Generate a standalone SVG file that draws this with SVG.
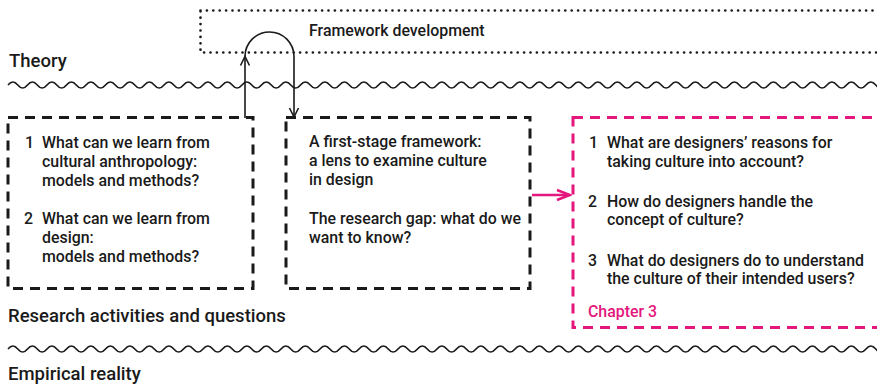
<svg xmlns="http://www.w3.org/2000/svg" xmlns:xlink="http://www.w3.org/1999/xlink" width="877" height="386" viewBox="0 0 877 386">
<style>
text{font-family:Roboto,"Liberation Sans",sans-serif;fill:#1a1a1a;font-weight:500}
.lbl{font-size:18.5px}
.t{font-size:15.9px}
.pk{fill:#e4177c}
.wave{fill:none;stroke:#1a1a1a;stroke-width:1.6}
.box{fill:none;stroke:#1a1a1a;stroke-width:3;stroke-dasharray:10 7}
.pbox{fill:none;stroke:#e4177c;stroke-width:3;stroke-dasharray:10 7}
.dot{fill:none;stroke:#1a1a1a;stroke-width:2.7;stroke-linecap:round;stroke-dasharray:0 6.4}
.ln{fill:none;stroke:#1a1a1a;stroke-width:1.6}
.pln{fill:none;stroke:#e4177c;stroke-width:2.6}
</style>
<defs>
<path id="wave" d="M8 0q4.875-6 9.75 0t9.75 0t9.75 0t9.75 0t9.75 0t9.75 0t9.75 0t9.75 0t9.75 0t9.75 0t9.75 0t9.75 0t9.75 0t9.75 0t9.75 0t9.75 0t9.75 0t9.75 0t9.75 0t9.75 0t9.75 0t9.75 0t9.75 0t9.75 0t9.75 0t9.75 0t9.75 0t9.75 0t9.75 0t9.75 0t9.75 0t9.75 0t9.75 0t9.75 0t9.75 0t9.75 0t9.75 0t9.75 0t9.75 0t9.75 0t9.75 0t9.75 0t9.75 0t9.75 0t9.75 0t9.75 0t9.75 0t9.75 0t9.75 0t9.75 0t9.75 0t9.75 0t9.75 0t9.75 0t9.75 0t9.75 0t9.75 0t9.75 0t9.75 0t9.75 0t9.75 0t9.75 0t9.75 0t9.75 0t9.75 0t9.75 0t9.75 0t9.75 0t9.75 0t9.75 0t9.75 0t9.75 0t9.75 0t9.75 0t9.75 0t9.75 0t9.75 0t9.75 0t9.75 0t9.75 0t9.75 0t9.75 0t9.75 0t9.75 0t9.75 0t9.75 0t9.75 0t9.75 0t9.75 0t9.75 0t9.75 0t9.75 0"/>
<marker id="ah" markerWidth="12" markerHeight="12" refX="10" refY="6" orient="auto" markerUnits="userSpaceOnUse">
<path d="M1 1.5L10 6L1 10.5" fill="none" stroke="#1a1a1a" stroke-width="1.6"/>
</marker>
<marker id="ahp" markerWidth="16" markerHeight="14" refX="14" refY="7" orient="auto" markerUnits="userSpaceOnUse">
<path d="M1 2L14 7L1 12" fill="none" stroke="#e4177c" stroke-width="2.6"/>
</marker>
</defs>

<g id="layers">
<use xlink:href="#wave" href="#wave" class="wave" y="85"/>
<use xlink:href="#wave" href="#wave" class="wave" y="349"/>
<text class="lbl" x="9" y="67">Theory</text>
<text class="lbl" x="8" y="322">Research activities and questions</text>
<text class="lbl" x="8" y="380">Empirical reality</text>
</g>

<g id="framework-development">
<rect class="dot" x="200.5" y="10.5" width="720" height="42"/>
<text class="t" x="309" y="36">Framework development</text>
</g>

<g id="node-theory-questions">
<rect class="box" x="8" y="117.5" width="245" height="171"/>
<text class="t" x="25" y="148">1</text>
<text class="t" x="42" y="148">What can we learn from</text>
<text class="t" x="42" y="167">cultural anthropology:</text>
<text class="t" x="42" y="186">models and methods?</text>
<text class="t" x="24" y="224">2</text>
<text class="t" x="42" y="224">What can we learn from</text>
<text class="t" x="42" y="243">design:</text>
<text class="t" x="42" y="262">models and methods?</text>
</g>

<g id="node-first-stage">
<rect class="box" x="286" y="117.5" width="244" height="171"/>
<text class="t" x="309" y="147">A first-stage framework:</text>
<text class="t" x="309" y="166">a lens to examine culture</text>
<text class="t" x="309" y="185">in design</text>
<text class="t" x="309" y="224">The research gap: what do we</text>
<text class="t" x="309" y="243">want to know?</text>
</g>

<g id="node-chapter3">
<rect class="pbox" x="573" y="117.5" width="330" height="210"/>
<text class="t" x="589" y="148">1</text>
<text class="t" x="607" y="148">What are designers’ reasons for</text>
<text class="t" x="607" y="167">taking culture into account?</text>
<text class="t" x="588" y="207">2</text>
<text class="t" x="607" y="207">How do designers handle the</text>
<text class="t" x="607" y="225">concept of culture?</text>
<text class="t" x="588" y="266">3</text>
<text class="t" x="607" y="266">What do designers do to understand</text>
<text class="t" x="607" y="284">the culture of their intended users?</text>
<text class="t pk" x="588" y="317">Chapter 3</text>
</g>

<g id="connectors">
<path class="ln" d="M245 118V56.5" marker-end="url(#ah)"/>
<path class="ln" d="M245 56.5A24.5 24.5 0 0 1 294 56.5V117" marker-end="url(#ah)"/>
<path class="pln" d="M532 195H570" marker-end="url(#ahp)"/>
</g>
</svg>
